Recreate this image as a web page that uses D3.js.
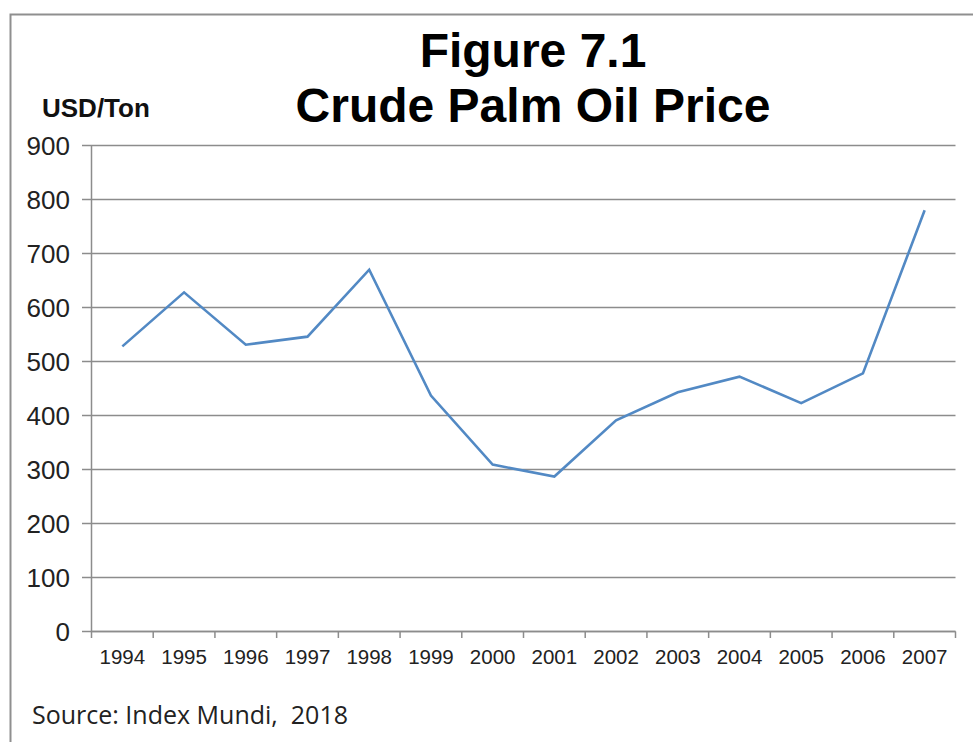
<!DOCTYPE html>
<html>
<head>
<meta charset="utf-8">
<script src="https://cdn.jsdelivr.net/npm/d3@7"></script>
<style>
  html, body { margin: 0; padding: 0; background: #fff; }
  svg { display: block; }
</style>
</head>
<body>
<svg id="chart" width="973" height="742"></svg>
<script>
// chart data
const years = ["1994", "1995", "1996", "1997", "1998", "1999", "2000",
               "2001", "2002", "2003", "2004", "2005", "2006", "2007"];
const prices = [528, 628, 531, 546, 670, 437, 309, 287, 391, 443, 472, 423, 478, 780];
const yTicks = [0, 100, 200, 300, 400, 500, 600, 700, 800, 900];
const titleLines = ["Figure 7.1", "Crude Palm Oil Price"];
const unitLabel = "USD/Ton";
const sourceNote = "Source: Index Mundi,  2018";

const svg = d3.select("#chart");
const font = "'Liberation Sans', Arial, sans-serif";
const gridColor = "#8c8c8c";

// plot area
const margin = { left: 91.5, right: 955.5, top: 145.5, bottom: 631.5 };

// outer frame (right and bottom run off the picture)
svg.append("path")
    .attr("d", "M10.5,760 V14.5 H990")
    .attr("fill", "none")
    .attr("stroke", "#8f8f8f")
    .attr("stroke-width", 2);

// scales
const x = d3.scaleBand()
    .domain(years)
    .range([margin.left, margin.right])
    .padding(0);
const y = d3.scaleLinear()
    .domain([0, 900])
    .range([margin.bottom, margin.top]);

// horizontal grid lines + left tick marks
svg.append("g").attr("class", "grid")
    .selectAll("line")
    .data(yTicks)
    .enter()
    .append("line")
        .attr("x1", margin.left - 9.5)
        .attr("x2", margin.right)
        .attr("y1", d => y(d))
        .attr("y2", d => y(d))
        .attr("stroke", gridColor)
        .attr("stroke-width", 1.5);

// y labels
svg.append("g").attr("class", "y-labels")
    .selectAll("text")
    .data(yTicks)
    .enter()
    .append("text")
        .attr("x", 70)
        .attr("y", d => y(d) + 9)
        .attr("text-anchor", "end")
        .attr("font-family", font)
        .attr("font-size", 26)
        .attr("fill", "#222")
        .text(d => d);

// y axis line
svg.append("line")
    .attr("x1", margin.left).attr("x2", margin.left)
    .attr("y1", margin.top).attr("y2", margin.bottom + 6.5)
    .attr("stroke", gridColor)
    .attr("stroke-width", 1.5);

// x axis: labels centred in bands, tick marks on band edges
const xAxis = d3.axisBottom(x).tickSize(0).tickPadding(18);
const xg = svg.append("g")
    .attr("transform", "translate(0," + margin.bottom + ")")
    .call(xAxis);
xg.select(".domain").remove();
xg.selectAll("text")
    .attr("font-family", font)
    .attr("font-size", 20.5)
    .attr("fill", "#222")
    .attr("dy", "0.71em");

const edges = years.map(d => x(d) + x.bandwidth());
svg.append("g").attr("class", "x-ticks")
    .selectAll("line")
    .data(edges)
    .enter()
    .append("line")
        .attr("x1", d => d).attr("x2", d => d)
        .attr("y1", margin.bottom).attr("y2", margin.bottom + 6.5)
        .attr("stroke", gridColor)
        .attr("stroke-width", 1.5);

svg.append("line")
    .attr("x1", margin.left - 0.75).attr("x2", margin.right)
    .attr("y1", margin.bottom).attr("y2", margin.bottom)
    .attr("stroke", gridColor)
    .attr("stroke-width", 1.5);

// price line
const line = d3.line()
    .x((d, i) => x(years[i]) + x.bandwidth() / 2)
    .y(d => y(d));
svg.append("path")
    .datum(prices)
    .attr("d", line)
    .attr("fill", "none")
    .attr("stroke", "#5289c4")
    .attr("stroke-width", 2.6)
    .attr("stroke-linejoin", "miter");

// titles
svg.append("g").attr("class", "title")
    .selectAll("text")
    .data(titleLines)
    .enter()
    .append("text")
        .attr("x", 533)
        .attr("y", (d, i) => 67 + i * 55)
        .attr("text-anchor", "middle")
        .attr("font-family", font)
        .attr("font-weight", "bold")
        .attr("font-size", 48)
        .attr("fill", "#000")
        .text(d => d);

svg.append("text")
    .attr("x", 42)
    .attr("y", 117)
    .attr("font-family", font)
    .attr("font-weight", "bold")
    .attr("font-size", 26)
    .attr("fill", "#111")
    .text(unitLabel);

svg.append("text")
    .attr("x", 32)
    .attr("y", 724)
    .attr("font-family", "'Open Sans', 'Noto Sans', sans-serif")
    .attr("font-size", 25)
    .attr("fill", "#222")
    .attr("xml:space", "preserve")
    .style("white-space", "pre")
    .text(sourceNote);
</script>
</body>
</html>
